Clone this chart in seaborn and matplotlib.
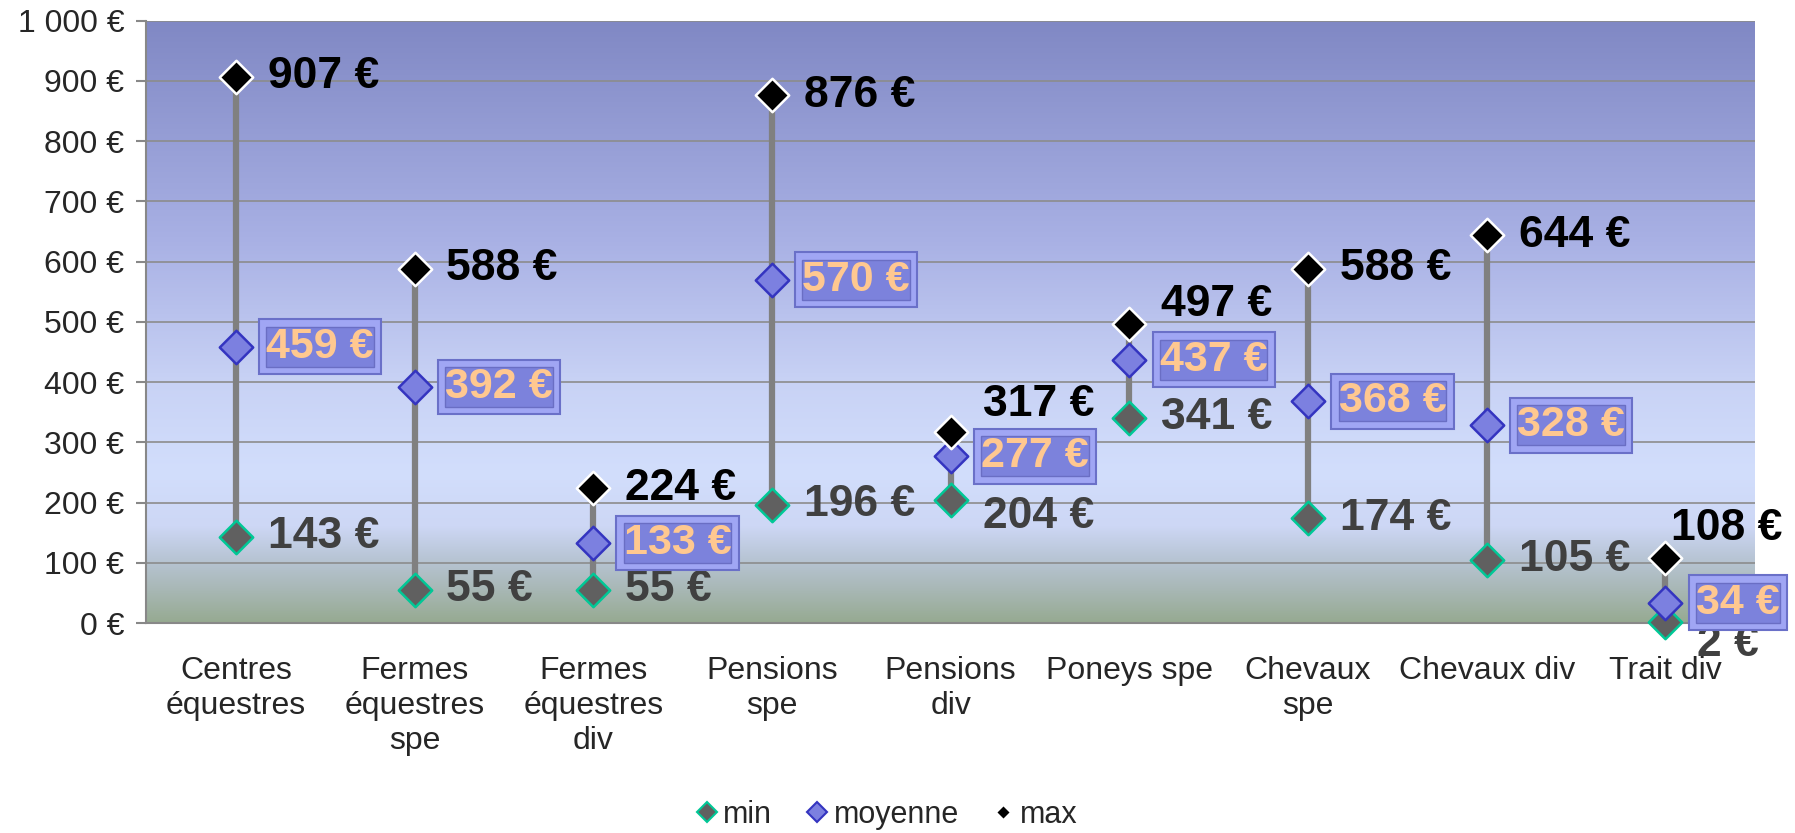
import numpy as np
import pandas as pd
import matplotlib
matplotlib.use('Agg')
import matplotlib.pyplot as plt
from matplotlib.lines import Line2D
import seaborn as sns

# Données (en euros)
categories = ['Centres\néquestres', 'Fermes\néquestres\nspe', 'Fermes\néquestres\ndiv',
              'Pensions\nspe', 'Pensions\ndiv', 'Poneys spe', 'Chevaux\nspe',
              'Chevaux div', 'Trait div']
val_min = [143, 55, 55, 196, 204, 341, 174, 105, 2]
val_moy = [459, 392, 133, 570, 277, 437, 368, 328, 34]
val_max = [907, 588, 224, 876, 317, 497, 588, 644, 108]
y_ticks = [0, 100, 200, 300, 400, 500, 600, 700, 800, 900, 1000]

df = pd.DataFrame({'pos': np.arange(len(categories)), 'min': val_min,
                   'moyenne': val_moy, 'max': val_max})

sns.set_style('white')
plt.rcParams['font.family'] = ['Liberation Sans', 'DejaVu Sans']

fig = plt.figure(figsize=(17.95, 8.33), dpi=100)
ax = fig.add_axes([0.0816, 0.252, 0.896, 0.7233])

# fond en dégradé
stops_v = [0, 60, 110, 160, 250, 400, 640, 1000]
stops_c = np.array([(150, 170, 145), (170, 185, 185), (185, 198, 215), (205, 215, 245),
                    (210, 222, 252), (200, 210, 245), (168, 176, 228), (128, 136, 196)]) / 255
yy = np.linspace(0, 1000, 400)
grad = np.stack([np.interp(yy, stops_v, stops_c[:, k]) for k in range(3)], axis=-1)[:, None, :]
ax.imshow(grad, extent=[-0.5, 8.5, 0, 1000], origin='lower', aspect='auto', zorder=0)

ax.set_axisbelow(True)
ax.yaxis.grid(True, color='#8c8c8c', lw=1.2)
ax.xaxis.grid(False)

# barres min-max
ax.vlines(df['pos'], df['min'], df['max'], color='#808080', lw=4.5, zorder=2)

sns.scatterplot(data=df, x='pos', y='min', marker='D', s=290, color='#606060',
                edgecolor='#00c896', linewidth=1.8, zorder=4, clip_on=False, ax=ax)
sns.scatterplot(data=df, x='pos', y='moyenne', marker='D', s=290, color='#7c80e0',
                edgecolor='#3434c0', linewidth=1.8, zorder=4, clip_on=False, ax=ax)
sns.scatterplot(data=df, x='pos', y='max', marker='D', s=290, color='black',
                edgecolor='white', linewidth=1.8, zorder=4, clip_on=False, ax=ax)

fs_lab = 32
off_max = {4: (23, 20), 5: (23, 14), 8: (4, 21)}
off_min = {4: (23, -12), 8: (23, -16)}
for i in range(len(categories)):
    ax.annotate(f'{val_max[i]} €', (i, val_max[i]), xytext=off_max.get(i, (23, 0)),
                textcoords='offset points', ha='left', va='center', fontsize=fs_lab,
                fontweight='bold', color='black', zorder=6, annotation_clip=False)
    ax.annotate(f'{val_min[i]} €', (i, val_min[i]), xytext=off_min.get(i, (23, 0)),
                textcoords='offset points', ha='left', va='center', fontsize=fs_lab,
                fontweight='bold', color='#404040', zorder=6, annotation_clip=False)
    # étiquette moyenne en boîte biseautée
    ax.annotate(f'{val_moy[i]} €', (i, val_moy[i]), xytext=(22, 0),
                textcoords='offset points', ha='left', va='center', fontsize=fs_lab - 1,
                fontweight='bold', color='none', zorder=7, annotation_clip=False,
                bbox=dict(boxstyle='square,pad=0.17', fc='#a0a6f4', ec='#6a70c8', lw=1.5))
    ax.annotate(f'{val_moy[i]} €', (i, val_moy[i]), xytext=(22, 0),
                textcoords='offset points', ha='left', va='center', fontsize=fs_lab - 1,
                fontweight='bold', color='#ffc890', zorder=8, annotation_clip=False,
                bbox=dict(boxstyle='square,pad=0.0', fc='#7c82dc', ec='#6a6ec4', lw=1))

ax.set_xlim(-0.5, 8.5)
ax.set_ylim(0, 1000)
ax.set_xticks(df['pos'])
ax.set_xticklabels(categories, fontsize=23, linespacing=1.2)
ax.set_xticks(np.arange(-0.5, 9, 1), minor=True)
ax.set_yticks(y_ticks)
ax.set_yticklabels([f'{v:,}'.replace(',', ' ') + ' €' for v in y_ticks], fontsize=23)
ax.tick_params(axis='x', which='major', length=0, pad=24)
ax.tick_params(axis='x', which='minor', length=8, width=1.5, color='#888888', direction='out')
ax.tick_params(axis='y', length=7, width=1.5, color='#888888', direction='out', left=True, pad=9)
ax.set_xlabel('')
ax.set_ylabel('')
for s in ['top', 'right']:
    ax.spines[s].set_visible(False)
for s in ['left', 'bottom']:
    ax.spines[s].set_color('#888888')
    ax.spines[s].set_linewidth(1.5)

handles = [
    Line2D([], [], ls='none', marker='D', ms=10, mfc='#606060', mec='#00c896', mew=1.5),
    Line2D([], [], ls='none', marker='D', ms=10, mfc='#7c80e0', mec='#3434c0', mew=1.5),
    Line2D([], [], ls='none', marker='D', ms=7.5, mfc='black', mec='white', mew=1),
]
fig.legend(handles, ['min', 'moyenne', 'max'], loc='center', bbox_to_anchor=(0.494, 0.022),
           ncol=3, frameon=False, fontsize=22, handlelength=0.7, handletextpad=0.2,
           columnspacing=1.1)

fig.savefig('out.png', dpi=100)
